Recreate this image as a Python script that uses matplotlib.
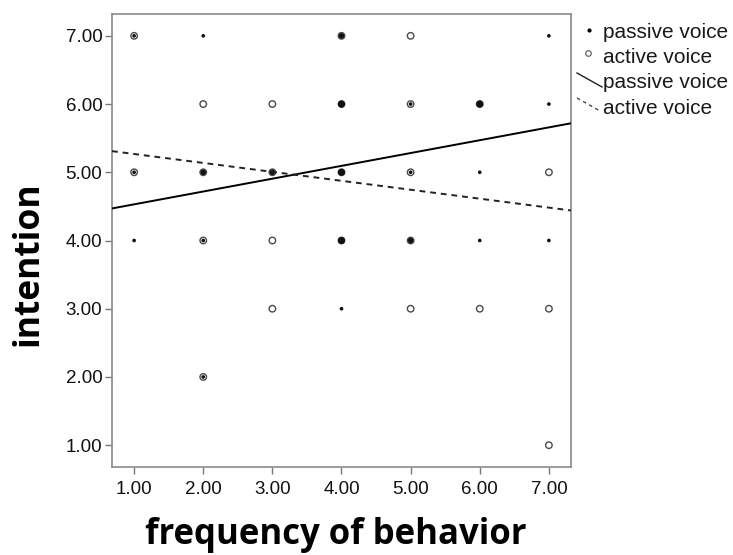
import matplotlib
matplotlib.use("Agg")
import matplotlib.pyplot as plt
from matplotlib.lines import Line2D

W, H = 733, 555

# passive voice observations: x, y, overlap count
passive_x = [1, 2, 4, 7, 4, 5, 6, 7, 1, 2, 3, 4, 5, 6, 1, 2, 4, 5, 6, 7, 4, 2]
passive_y = [7, 7, 7, 7, 6, 6, 6, 6, 5, 5, 5, 5, 5, 5, 4, 4, 4, 4, 4, 4, 3, 2]
passive_n = [1, 1, 2, 1, 3, 1, 3, 1, 1, 2, 2, 3, 1, 1, 1, 1, 3, 2, 1, 1, 1, 1]

# active voice observations
active_x = [1, 4, 5, 2, 3, 4, 5, 6, 1, 2, 3, 4, 5, 7, 2, 3, 4, 5, 3, 5, 6, 7, 2, 7]
active_y = [7, 7, 7, 6, 6, 6, 6, 6, 5, 5, 5, 5, 5, 5, 4, 4, 4, 4, 3, 3, 3, 3, 2, 1]

# fit lines (intercept, slope)
passive_fit = (4.342, 0.188)
active_fit = (5.399, -0.131)

ticks = [1, 2, 3, 4, 5, 6, 7]
tick_labels = ["1.00", "2.00", "3.00", "4.00", "5.00", "6.00", "7.00"]
legend_labels = ["passive voice", "active voice", "passive voice", "active voice"]

LO, HI = 0.68, 7.32

fig = plt.figure(figsize=(W / 100, H / 100), dpi=100)
ax = fig.add_axes([112 / W, 1 - 467 / H, (571 - 112) / W, (467 - 14) / H])

ax.scatter(active_x, active_y, s=22, facecolors="none", edgecolors="#4a4a4a",
           linewidths=1.0, zorder=2)
ax.scatter(passive_x, passive_y, s=[7 + 9 * (n - 1) for n in passive_n],
           color="#111111", marker="o", linewidths=0, zorder=3)

xs = [LO, HI]
ax.plot(xs, [passive_fit[0] + passive_fit[1] * x for x in xs], color="black",
        lw=1.4, zorder=4)
ax.plot(xs, [active_fit[0] + active_fit[1] * x for x in xs], color="#222222",
        lw=1.4, ls=(0, (3, 2.5)), zorder=4)

ax.set_xlim(LO, HI)
ax.set_ylim(LO, HI)
ax.set_xticks(ticks)
ax.set_xticklabels(tick_labels)
ax.set_yticks(ticks)
ax.set_yticklabels(tick_labels)
ax.tick_params(direction="out", length=5, width=1, color="#777777",
               labelsize=13.5, labelcolor="#111111")
ax.tick_params(axis="x", pad=5)
ax.tick_params(axis="y", pad=2)
for lab in ax.get_xticklabels() + ax.get_yticklabels():
    lab.set_family("Liberation Sans")
for sp in ax.spines.values():
    sp.set_color("#8a8a8a")
    sp.set_linewidth(1.2)

fig.text(336 / W, 1 - 535 / H, "frequency of behavior", ha="center", va="center",
         fontsize=25, fontweight="bold", family="Open Sans")
fig.text(28 / W, 1 - 264 / H, "intention", ha="center", va="center",
         rotation=90, fontsize=25.5, fontweight="bold", family="Open Sans")


def fx(px):
    return px / W


def fy(py):
    return 1 - py / H


# legend, drawn by hand in figure pixels
fig.add_artist(Line2D([fx(589)], [fy(30)], marker="o", ms=2, color="black", lw=0))
fig.add_artist(Line2D([fx(588)], [fy(53)], marker="o", ms=4, mfc="none",
                      mec="#666666", mew=0.9, lw=0))
fig.add_artist(Line2D([fx(577), fx(602)], [fy(73), fy(87)], color="#222222", lw=1))
fig.add_artist(Line2D([fx(577), fx(600)], [fy(98), fy(111)], color="#444444",
                      lw=1, ls=(0, (2.5, 2.5))))
for i, lab in enumerate(legend_labels):
    fig.text(fx(603), fy([32, 57, 82, 108][i]), lab, ha="left", va="center",
             fontsize=15, family="Liberation Sans", color="#1a1a1a")

fig.savefig("out.png", dpi=100)
